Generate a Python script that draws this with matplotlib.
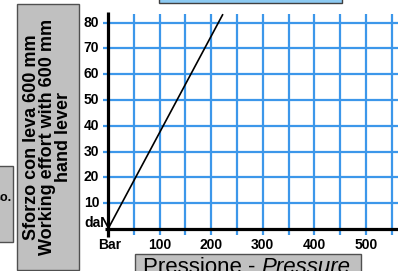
import matplotlib
matplotlib.use("Agg")
import matplotlib.pyplot as plt
from matplotlib.patches import Rectangle

plt.rcParams['font.family'] = ['Liberation Sans', 'DejaVu Sans']

# Data
pressure = [0, 222]          # Bar
effort = [0, 83]             # daN
x_grid = [50, 100, 150, 200, 250, 300, 350, 400, 450, 500, 550]
y_grid = [10, 20, 30, 40, 50, 60, 70, 80]
x_labels = [100, 200, 300, 400, 500]
y_labels = [10, 20, 30, 40, 50, 60, 70, 80]
ylabel_lines = ["Sforzo con leva 600 mm", "Working effort with 600 mm", "hand lever"]

W, H = 398, 271
fig = plt.figure(figsize=(W / 100, H / 100), dpi=100)

def fx(px):
    return px / W

def fy(py):
    return (H - py) / H

# axes placement (pixel based)
xmin, xmax = -10, 565
ymin, ymax = -3, 84
left_px = 108 + 0.516 * xmin
right_px = 108 + 0.516 * xmax
bot_px = 229 - 2.58 * ymin
top_px = 229 - 2.58 * ymax
ax = fig.add_axes([fx(left_px), fy(bot_px), fx(right_px) - fx(left_px), fy(top_px) - fy(bot_px)])
ax.set_xlim(xmin, xmax)
ax.set_ylim(ymin, ymax)
ax.axis('off')

grid_c = '#3c97ea'
ax.vlines(x_grid, -2.5, 83.5, color=grid_c, lw=1.6, clip_on=False, zorder=1)
ax.hlines(y_grid, -9, xmax, color=grid_c, lw=1.6, clip_on=False, zorder=1)
ax.plot([0, 0], [-3, 84], color='black', lw=2.3, solid_capstyle='butt', zorder=3, clip_on=False)
ax.plot([-5, xmax], [0, 0], color='black', lw=2.3, solid_capstyle='butt', zorder=3, clip_on=False)

ax.plot(pressure, effort, color='black', lw=1.2, zorder=4, clip_on=False)

for v in y_labels:
    ax.text(-17, v, str(v), ha='right', va='center', fontsize=10, fontweight='bold')
ax.text(4, 2.2, 'daN', ha='right', va='center', fontsize=10, fontweight='bold', zorder=5)
for v in x_labels:
    ax.text(v, -6.2, str(v), ha='center', va='center', fontsize=10, fontweight='bold')
ax.text(3, -6.2, 'Bar', ha='center', va='center', fontsize=10, fontweight='bold')

# left gray box with rotated label
fig.patches.append(Rectangle((fx(16.5), fy(269.5)), fx(79) - fx(16.5), fy(4) - fy(269.5),
                             transform=fig.transFigure, facecolor='#c0c0c0',
                             edgecolor='#505050', lw=1.0))
fig.text(fx(47.5), fy(137), "\n".join(ylabel_lines), rotation=90, ha='center', va='center',
         multialignment='center', fontsize=13, fontweight='bold', linespacing=0.92)

# small left box
fig.patches.append(Rectangle((fx(-5), fy(242)), fx(13) - fx(-5), fy(166) - fy(242),
                             transform=fig.transFigure, facecolor='#c0c0c0',
                             edgecolor='#505050', lw=1.0))
fig.text(fx(12), fy(198), 'so.', ha='right', va='center', fontsize=9, fontweight='bold')

# top cyan box
fig.patches.append(Rectangle((fx(159), fy(3)), fx(342) - fx(159), fy(-5) - fy(3),
                             transform=fig.transFigure, facecolor='#8ccaf2',
                             edgecolor='#404040', lw=1.0))

# bottom gray box with x label
fig.patches.append(Rectangle((fx(135), fy(280)), fx(361) - fx(135), fy(254) - fy(280),
                             transform=fig.transFigure, facecolor='#c0c0c0',
                             edgecolor='#505050', lw=1.0))
t1 = fig.text(fx(143), fy(273), 'Pressione - ', ha='left', va='baseline', fontsize=16)
fig.canvas.draw()
bb = t1.get_window_extent()
fig.text(bb.x1 / W, fy(273), 'Pressure', ha='left', va='baseline', fontsize=16, style='italic')

fig.savefig('out.png', dpi=100)
